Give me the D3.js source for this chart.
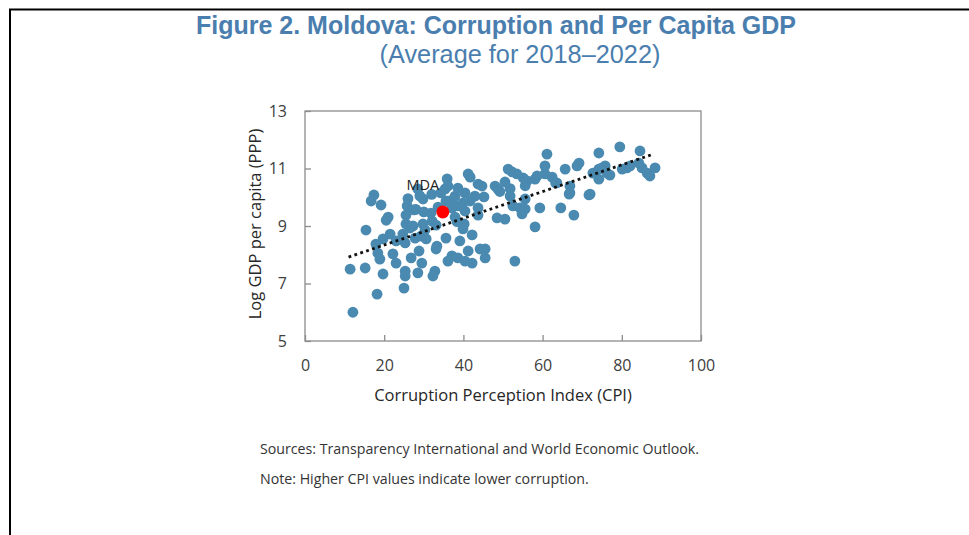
<!DOCTYPE html>
<html><head><meta charset="utf-8">
<script src="https://cdn.jsdelivr.net/npm/d3@7"></script>
<style>body{margin:0;background:#fff}svg{display:block}</style>
</head><body>
<svg id="c" width="969" height="535"></svg>
<script>
// Data (CPI, log GDP per capita PPP)
const cpi = [11.4,12.1,15.2,15.4,18.2,18.4,18.9,17.9,19.7,19.7,21.5,22.2,23.0,25.3,25.3,25.0,26.8,28.5,28.8,29.5,32.3,32.8,33.1,33.3,35.6,36.1,
  16.7,17.4,19.2,21.0,28.5,24.7,25.3,26.5,27.8,29.3,30.3,30.6,23.0,
  29.8,25.8,27.5,30.0,31.8,33.6,35.4,36.1,25.5,27.3,29.8,35.6,32.1,25.5,33.1,34.3,
  38.6,40.4,42.9,37.9,36.6,38.6,39.9,41.7,37.1,40.4,43.7,43.7,40.2,41.2,41.7,43.7,44.7,45.2,48.0,48.7,50.5,51.3,52.3,53.5,55.1,56.1,58.1,58.6,60.6,60.6,61.1,62.4,
  51.8,52.5,54.3,55.6,55.6,54.8,59.3,58.1,48.5,50.5,
  39.1,39.9,42.2,41.2,37.1,38.6,40.4,42.2,44.2,45.5,45.5,53.0,37.9,
  79.5,84.6,74.2,69.2,68.7,65.7,72.7,74.2,75.0,75.8,76.3,77.0,74.2,80.1,81.3,84.3,85.1,86.4,87.1,88.4,66.9,66.7,63.6,71.7,64.6,67.9,82.1,
  20.5,26.0,28.0,29.0,32.0,35.9,38.4,49.2,51.8,55.6,63.3,66.9,72.0];
const gdp = [7.50,6.00,7.54,8.86,6.63,8.06,7.85,8.37,7.33,8.55,8.72,8.03,7.71,7.43,7.26,6.84,7.89,7.37,8.13,7.71,7.26,7.43,8.20,8.30,8.58,7.78,
  9.87,10.08,9.73,9.31,10.29,8.72,8.41,8.93,8.58,8.65,8.86,8.55,8.48,
  9.94,9.70,9.56,9.49,9.45,9.66,10.29,10.39,9.07,9.00,9.07,9.87,9.17,9.38,9.03,10.15,
  10.32,10.15,10.04,10.04,9.87,9.70,9.80,9.87,9.63,9.52,9.63,9.38,9.07,10.81,10.70,10.46,10.39,10.01,10.39,10.29,10.53,10.98,10.88,10.81,10.67,10.57,10.63,10.74,10.81,11.09,11.50,10.70,
  10.04,9.70,9.63,9.94,9.59,9.42,9.63,8.97,9.28,9.24,
  8.48,8.90,8.69,8.13,7.96,7.89,7.78,7.71,8.20,8.20,7.89,7.78,9.31,
  11.75,11.61,11.54,11.19,11.09,10.98,10.84,10.98,11.02,11.09,10.84,10.77,10.63,10.98,11.02,11.19,11.02,10.84,10.74,11.02,10.39,10.11,10.50,10.08,9.63,9.38,11.09,
  9.20,9.95,9.58,10.05,10.10,10.64,9.15,10.20,10.30,10.40,10.50,10.15,10.11];
const mdaCpi = 34.8, mdaGdp = 9.49, mdaLabel = "MDA";
const trendX = [11, 88];
const trendY = [7.92, 11.5];
const xTicks = [0,20,40,60,80,100];
const yTicks = [5,7,9,11,13];

const svg = d3.select("#c");
const x = d3.scaleLinear().domain([0,100]).range([305,701]);
const y = d3.scaleLinear().domain([5,13]).range([341,111]);
const font = "'Open Sans', sans-serif";

// outer frame
svg.append("path").attr("d","M10,535 L10,9.5 L969,9.5").attr("fill","none").attr("stroke","#000").attr("stroke-width",2);

// titles
svg.append("text").attr("x",496).attr("y",34).attr("text-anchor","middle")
  .attr("font-family","'Liberation Sans', Arial, sans-serif").attr("font-weight","bold").attr("font-size",25)
  .attr("fill","#4A7EAE").text("Figure 2. Moldova: Corruption and Per Capita GDP");
svg.append("text").attr("x",520).attr("y",63).attr("text-anchor","middle")
  .attr("font-family","'Liberation Sans', Arial, sans-serif").attr("font-size",25.3)
  .attr("fill","#4A7EAE").text("(Average for 2018\u20132022)");

// plot frame
svg.append("rect").attr("x",305).attr("y",111).attr("width",396).attr("height",230)
  .attr("fill","none").attr("stroke","#8c8c8c").attr("stroke-width",1.3);

// axes
const gx = svg.append("g").attr("transform","translate(0,341)")
  .call(d3.axisBottom(x).tickValues(xTicks).tickSize(-6).tickPadding(19).tickFormat(d3.format("d")));
const gy = svg.append("g").attr("transform","translate(305,0)")
  .call(d3.axisLeft(y).tickValues(yTicks).tickSize(-6).tickPadding(18).tickFormat(d3.format("d")));
[gx,gy].forEach(g=>{
  g.select(".domain").remove();
  g.selectAll("line").attr("stroke","#8c8c8c").attr("stroke-width",1.3);
  g.selectAll("text").attr("font-family",font).attr("font-size",16).attr("fill","#404040");
});

// axis labels
svg.append("text").attr("x",503).attr("y",401).attr("text-anchor","middle")
  .attr("font-family",font).attr("font-size",16.5).attr("fill","#262626").text("Corruption Perception Index (CPI)");
svg.append("text").attr("transform","translate(261,224) rotate(-90)").attr("text-anchor","middle")
  .attr("font-family",font).attr("font-size",16.5).attr("fill","#262626").text("Log GDP per capita (PPP)");

// points
const pts = cpi.map((c,i)=>({c, g:gdp[i]}));
svg.append("g").selectAll("circle").data(pts).join("circle")
  .attr("cx",d=>x(d.c)).attr("cy",d=>y(d.g)).attr("r",5.4).attr("fill","#4A8AB1");

// trend line
svg.append("line").attr("x1",x(trendX[0])).attr("y1",y(trendY[0])).attr("x2",x(trendX[1])).attr("y2",y(trendY[1]))
  .attr("stroke","#111").attr("stroke-width",2.8).attr("stroke-dasharray","2.8,3.4");

// MDA
svg.append("circle").attr("cx",x(mdaCpi)).attr("cy",y(mdaGdp)).attr("r",6.5).attr("fill","#FF0000");
svg.append("text").attr("x",x(mdaCpi)-20).attr("y",y(mdaGdp)-22).attr("text-anchor","middle")
  .attr("font-family",font).attr("font-size",14.5).attr("fill","#222").text(mdaLabel);

// notes
svg.append("text").attr("x",260).attr("y",454).attr("font-family",font).attr("font-size",14.2).attr("fill","#333")
  .text("Sources: Transparency International and World Economic Outlook.");
svg.append("text").attr("x",260).attr("y",484).attr("font-family",font).attr("font-size",14.2).attr("fill","#333")
  .text("Note: Higher CPI values indicate lower corruption.");
</script>
</body></html>
